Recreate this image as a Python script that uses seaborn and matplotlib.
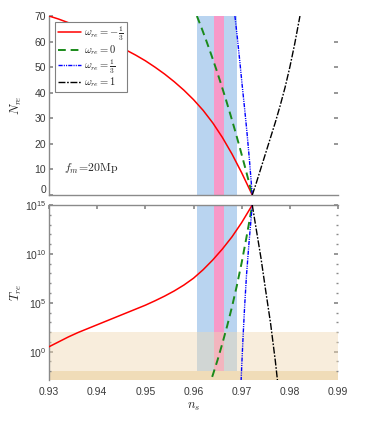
import numpy as np
import pandas as pd
import matplotlib
matplotlib.use("Agg")
import matplotlib.pyplot as plt
import seaborn as sns
from matplotlib.ticker import FixedLocator, FuncFormatter, NullFormatter

sns.set_theme(style="white")
plt.rcParams["font.family"] = ["Liberation Sans", "DejaVu Sans"]
plt.rcParams["mathtext.fontset"] = "cm"

# ---------------- data ----------------
legend_labels = [r"$\omega_{re}=-\frac{1}{3}$", r"$\omega_{re}=0$",
                 r"$\omega_{re}=\frac{1}{3}$", r"$\omega_{re}=1$"]

# N_re vs n_s
red_ns_N = [0.930, 0.932, 0.934, 0.936, 0.938, 0.940, 0.942, 0.944, 0.946, 0.948, 0.950,
            0.952, 0.954, 0.956, 0.958, 0.960, 0.962, 0.964, 0.966, 0.968, 0.970, 0.9722]
red_N = [70.0, 68.8, 67.4, 65.7, 64.0, 62.2, 60.4, 58.6, 56.7, 54.7, 52.5,
         50.0, 47.3, 44.3, 41.0, 37.3, 33.1, 28.2, 22.5, 16.0, 8.7, 0.0]

green_ns_N = [0.9607, 0.9617, 0.9627, 0.9637, 0.9647, 0.9657, 0.9667, 0.9677,
              0.9687, 0.9697, 0.9707, 0.9717, 0.9722]
green_N = [70.0, 65.2, 60.1, 54.8, 49.3, 43.5, 37.5, 31.2, 24.7, 17.9, 10.9, 3.7, 0.0]

blue_ns_N = [0.9686, 0.9691, 0.9696, 0.9701, 0.9706, 0.9711, 0.9716, 0.9722]
blue_N = [70.0, 61.5, 52.5, 43.0, 34.0, 24.5, 14.0, 0.0]

black_ns_N = [0.9722, 0.9730, 0.9740, 0.9750, 0.9760, 0.9770, 0.9780, 0.9790, 0.9800, 0.9810, 0.9821]
black_N = [0.0, 4.5, 10.5, 16.5, 22.5, 28.5, 35.0, 42.0, 50.0, 59.0, 70.0]

# log10(T_re) vs n_s
red_ns_T = [0.930, 0.932, 0.934, 0.936, 0.938, 0.940, 0.942, 0.944, 0.946, 0.948, 0.950,
            0.952, 0.954, 0.956, 0.958, 0.960, 0.962, 0.964, 0.966, 0.968, 0.970, 0.9722]
red_logT = [0.5, 1.0, 1.5, 1.95, 2.35, 2.75, 3.15, 3.55, 3.95, 4.35, 4.75,
            5.2, 5.68, 6.21, 6.81, 7.51, 8.38, 9.38, 10.5, 11.75, 13.2, 15.0]

green_ns_T = [0.9630, 0.9640, 0.9650, 0.9660, 0.9670, 0.9680, 0.9690, 0.9700, 0.9710, 0.9722]
green_logT = [-3.8, -2.4, -0.85, 0.85, 2.65, 4.6, 6.75, 9.1, 11.7, 15.0]

blue_ns_T = [0.9698, 0.9700, 0.9703, 0.9706, 0.9710, 0.9715, 0.9722]
blue_logT = [-4.0, -1.6, 1.6, 4.5, 7.8, 11.0, 15.0]

black_ns_T = [0.9722, 0.9730, 0.9740, 0.9750, 0.9760, 0.9770, 0.9776]
black_logT = [15.0, 12.6, 9.6, 6.2, 2.9, -1.0, -3.7]

# shaded regions
blue_band = [0.9607, 0.9691]
pink_band = [0.9643, 0.9663]
light_band_T = [1e-2, 1e2]
dark_band_T = [10 ** -2.9, 1e-2]

xticks = [0.93, 0.94, 0.95, 0.96, 0.97, 0.98, 0.99]
yticks_N = [0, 10, 20, 30, 40, 50, 60, 70]

# ---------------- figure ----------------
W, H = 374, 448
fig = plt.figure(figsize=(W / 100, H / 100), dpi=100)
ax1 = fig.add_axes([49 / W, 1 - 195 / H, 289 / W, 179 / H])
ax2 = fig.add_axes([49 / W, 1 - 380 / H, 289 / W, 175 / H])

blue_c = "#b9d4f0"
pink_c = "#f799c8"
spine_c = "#8a8a8a"
tick_c = "#3a3a3a"

styles = [
    dict(color="red", lw=1.1, linestyle="-"),
    dict(color="#1a8a1a", lw=1.4, linestyle=(0, (4, 2.5))),
    dict(color="blue", lw=1.0, linestyle=(0, (3, 0.8, 0.8, 0.8, 0.8, 0.8))),
    dict(color="black", lw=1.0, linestyle=(0, (5, 1.2, 1.2, 1.2))),
]

# top panel
ax1.axvspan(*blue_band, color=blue_c, lw=0, zorder=1)
ax1.axvspan(*pink_band, color=pink_c, lw=0, zorder=1.2)
top_sets = [(red_ns_N, red_N), (green_ns_N, green_N), (blue_ns_N, blue_N), (black_ns_N, black_N)]
for (xs, ys), st, lab in zip(top_sets, styles, legend_labels):
    df = pd.DataFrame({"ns": xs, "N": ys})
    sns.lineplot(data=df, x="ns", y="N", sort=False, ax=ax1, label=lab, zorder=3, **st)
ax1.set_xlim(0.93, 0.99)
ax1.set_ylim(0, 70)
ax1.set_yticks(yticks_N)
ax1.set_xticks(xticks)
ax1.tick_params(axis="x", bottom=False, labelbottom=False)
ax1.tick_params(axis="y", left=True, direction="in", length=3, colors=spine_c,
                labelcolor=tick_c, labelsize=7.5, pad=2)
for s in ["top", "right"]:
    ax1.spines[s].set_visible(False)
for s in ["left", "bottom"]:
    ax1.spines[s].set_color(spine_c)
    ax1.spines[s].set_linewidth(1.0)
ax1.set_xlabel("")
ax1.set_ylabel(r"$N_{re}$", fontsize=9)
ax1.yaxis.set_label_coords(-0.085, 0.5)
sec = ax1.secondary_yaxis("right")
sec.set_yticks([20, 30, 40, 50, 60])
sec.tick_params(direction="in", length=3, colors=spine_c, labelright=False)
sec.spines["right"].set_visible(False)
ax1.text(0.9331, 10.2, r"$f_m\!=\!20\mathrm{Mp}$", fontsize=8.5, va="center", ha="left")
leg = ax1.legend(loc="upper left", bbox_to_anchor=(0.021, 0.966), fontsize=7.6,
                 frameon=True, fancybox=False, framealpha=1, edgecolor="#808080",
                 handlelength=2.2, handletextpad=0.3, labelspacing=0.0,
                 borderpad=0.25, borderaxespad=0)
leg.get_frame().set_linewidth(0.8)
fig.canvas.draw()
for lbl in ax1.get_yticklabels():
    if lbl.get_text() == "0":
        lbl.set_va("bottom")

# bottom panel
ax2.set_yscale("log")
ax2.fill_betweenx([1e-2, 1e15], blue_band[0], blue_band[1], color=blue_c, lw=0, zorder=1)
ax2.fill_betweenx([1e-2, 1e15], pink_band[0], pink_band[1], color=pink_c, lw=0, zorder=1.2)
ax2.axhspan(*dark_band_T, color="#f0dcb8", lw=0, zorder=0.5)
ax2.axhspan(*light_band_T, color=(0.94, 0.85, 0.70), alpha=0.45, lw=0, zorder=1.5)
bot_sets = [(red_ns_T, red_logT), (green_ns_T, green_logT), (blue_ns_T, blue_logT), (black_ns_T, black_logT)]
for (xs, ys), st in zip(bot_sets, styles):
    df = pd.DataFrame({"ns": xs, "T": [10.0 ** v for v in ys]})
    sns.lineplot(data=df, x="ns", y="T", sort=False, ax=ax2, legend=False, zorder=3, **st)
ax2.set_xlim(0.93, 0.99)
ax2.set_ylim(10 ** -2.9, 1e15)
ax2.yaxis.set_major_locator(FixedLocator([1e0, 1e5, 1e10, 1e15]))
ax2.yaxis.set_minor_locator(FixedLocator([10.0 ** k for k in range(-2, 16)]))
ax2.yaxis.set_major_formatter(FuncFormatter(lambda v, p: r"$\mathregular{10^{%d}}$" % round(np.log10(v))))
ax2.yaxis.set_minor_formatter(NullFormatter())
ax2.set_xticks(xticks)
ax2.set_xticklabels(["%.2f" % t for t in xticks])
ax2.tick_params(axis="x", bottom=False, top=True, direction="in", length=3,
                colors=spine_c, labelcolor=tick_c, labelsize=7.5, pad=5)
ax2.tick_params(axis="y", which="major", left=True, right=True, direction="in", length=3,
                colors=spine_c, labelcolor=tick_c, labelsize=7.5, pad=2)
ax2.tick_params(axis="y", which="minor", left=True, right=True, direction="in", length=1.5,
                colors=spine_c)
for s in ["right", "bottom"]:
    ax2.spines[s].set_visible(False)
for s in ["left", "top"]:
    ax2.spines[s].set_color(spine_c)
    ax2.spines[s].set_linewidth(1.0)
ax2.set_ylabel(r"$T_{re}$", fontsize=9)
ax2.yaxis.set_label_coords(-0.085, 0.5)
ax2.set_xlabel(r"$n_s$", fontsize=9, labelpad=3)

fig.savefig("out.png", dpi=100)
